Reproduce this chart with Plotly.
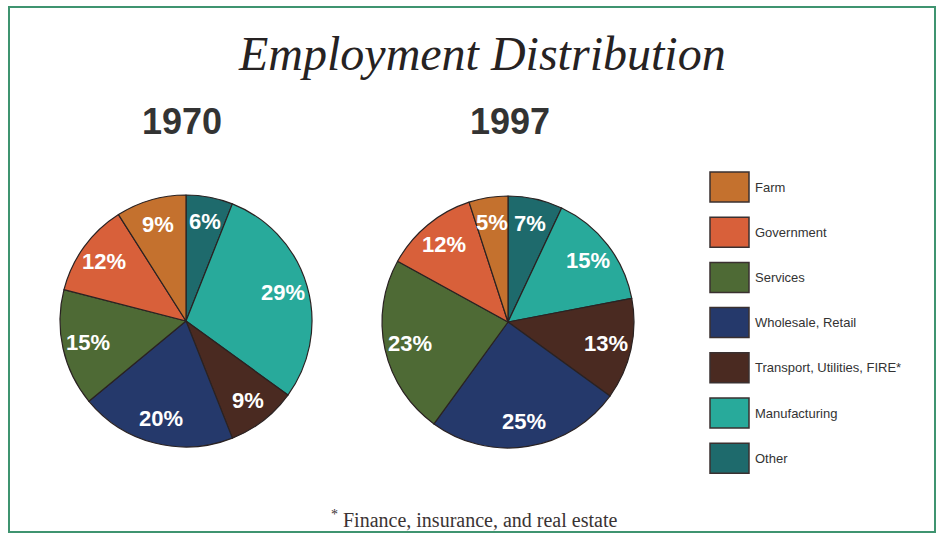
import math
import plotly.graph_objects as go

categories = ["Farm", "Government", "Services", "Wholesale, Retail",
              "Transport, Utilities, FIRE*", "Manufacturing", "Other"]
values_1970 = [9, 12, 15, 20, 9, 29, 6]
values_1997 = [5, 12, 23, 25, 13, 15, 7]
colors = ["#c4712e", "#d8603a", "#4e6a35", "#25396b", "#4a2a21", "#28aa9b", "#1e6a6c"]
years = ["1970", "1997"]

W, H = 943, 534
fig = go.Figure()

# pie geometry (pixels): centre x, centre y, radius
pies = [(186, 321, 126), (508, 322, 126)]

anns = []
shapes = []

for vals, (cx, cy, r), yr in zip([values_1970, values_1997], pies, years):
    dom = dict(x=[(cx - r) / W, (cx + r) / W], y=[(H - cy - r) / H, (H - cy + r) / H])
    # drawn clockwise from 12 o'clock, last legend entry first
    fig.add_trace(go.Pie(
        labels=categories[::-1], values=vals[::-1], sort=False,
        direction="clockwise", rotation=0,
        marker=dict(colors=colors[::-1], line=dict(color="#2a2222", width=1.2)),
        textinfo="none",
        domain=dom, showlegend=False, name=yr, hoverinfo="label+percent",
    ))
    # percentage labels at 0.8 r along each slice's mid-angle
    total = float(sum(vals))
    cum = 0.0
    for v in vals[::-1]:
        mid = (cum + v / 2) / total * 2 * math.pi
        cum += v
        px = cx + 0.8 * r * math.sin(mid)
        py = cy - 0.8 * r * math.cos(mid)
        anns.append(dict(text="<b>%d%%</b>" % v, x=px / W, y=1 - py / H,
                         xref="paper", yref="paper", xanchor="center", yanchor="middle",
                         showarrow=False,
                         font=dict(family="Liberation Sans, Arial", size=22, color="white")))

# title and year labels
anns.append(dict(text="<i>Employment Distribution</i>", x=482 / W, y=1 - 53 / H,
                 xref="paper", yref="paper", xanchor="center", yanchor="middle", showarrow=False,
                 font=dict(family="Liberation Serif, Times New Roman", size=48, color="#262222")))
for yr, cx in zip(years, [182, 510]):
    anns.append(dict(text="<b>" + yr + "</b>", x=cx / W, y=1 - 121 / H,
                     xref="paper", yref="paper", xanchor="center", yanchor="middle", showarrow=False,
                     font=dict(family="Liberation Sans, Arial", size=36, color="#333333")))
anns.append(dict(text="<sup>*</sup> Finance, insurance, and real estate", x=474 / W, y=1 - 519 / H,
                 xref="paper", yref="paper", xanchor="center", yanchor="middle", showarrow=False,
                 font=dict(family="Liberation Serif, Times New Roman", size=20, color="#3a3333")))

# legend
for i, (cat, col) in enumerate(zip(categories, colors)):
    ly = 187 + i * 45.2
    shapes.append(dict(type="rect", xref="paper", yref="paper",
                       x0=710 / W, x1=749 / W, y0=1 - (ly + 15) / H, y1=1 - (ly - 15) / H,
                       fillcolor=col, line=dict(color="#3a3030", width=1.5)))
    anns.append(dict(text=cat, x=753 / W, y=1 - ly / H, xref="paper", yref="paper",
                     xanchor="left", yanchor="middle", showarrow=False,
                     font=dict(family="Liberation Sans, Arial", size=13, color="#333333")))

# frame
shapes.append(dict(type="rect", xref="paper", yref="paper",
                   x0=9 / W, x1=935 / W, y0=1 - 532 / H, y1=1 - 7 / H,
                   line=dict(color="#3f9470", width=2), fillcolor="rgba(0,0,0,0)"))

fig.update_layout(
    width=W, height=H, margin=dict(l=0, r=0, t=0, b=0),
    paper_bgcolor="white", plot_bgcolor="white",
    annotations=anns, shapes=shapes,
)

fig.write_html("out.html")
